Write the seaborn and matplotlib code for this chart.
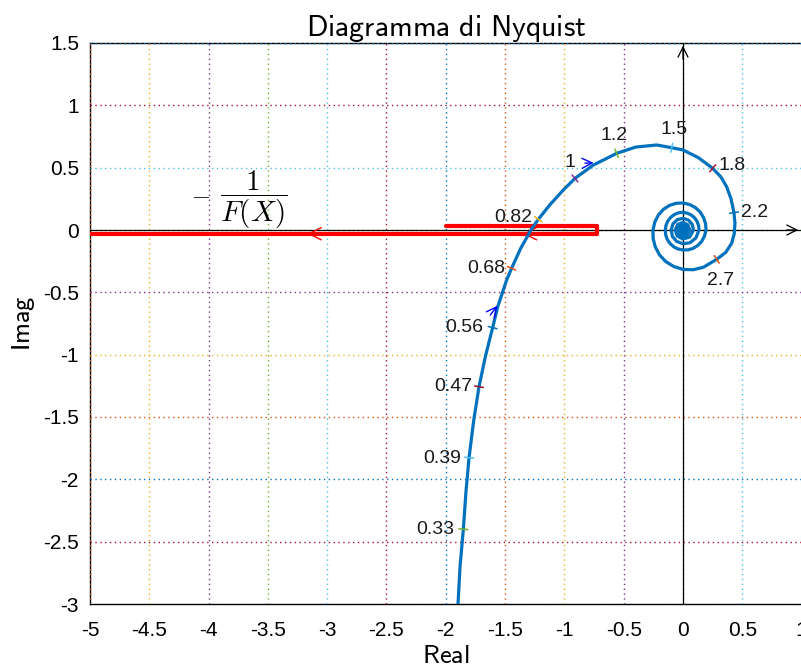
import numpy as np
import pandas as pd
import matplotlib
matplotlib.use("Agg")
import matplotlib.pyplot as plt
import seaborn as sns

# Nyquist locus of the open-loop function, low-frequency branch (Re, Im)
nyq_re = [-1.900, -1.880, -1.852, -1.830, -1.804, -1.765, -1.720, -1.665, -1.605,
          -1.562, -1.487, -1.445, -1.370, -1.282, -1.220, -1.120, -1.009, -0.911,
          -0.756, -0.559, -0.400, -0.222, -0.095, 0.000, 0.130, 0.250, 0.320,
          0.368, 0.405, 0.430, 0.438, 0.432, 0.410, 0.360, 0.284]
nyq_im = [-3.050, -2.700, -2.400, -2.100, -1.826, -1.530, -1.257, -1.010, -0.783,
          -0.615, -0.401, -0.307, -0.150, 0.000, 0.086, 0.205, 0.321, 0.414,
          0.521, 0.615, 0.665, 0.682, 0.660, 0.642, 0.580, 0.495, 0.425,
          0.347, 0.250, 0.139, 0.054, -0.030, -0.107, -0.180, -0.235]

# High-frequency spiral towards the origin, as phase (deg) and magnitude
tail_phase = [-60, -75, -90, -105, -120, -135, -150, -165, -180, -195, -210, -225,
              -240, -255, -270, -285, -300, -315, -330, -345, -360,
              -375, -390, -405, -420, -435, -450, -465, -480, -495, -510, -525, -540,
              -555, -570, -585, -600, -615, -630, -645, -660, -675, -690, -705, -720,
              -750, -780, -810, -840, -870, -900, -930, -960, -990, -1020, -1050, -1080,
              -1125, -1170, -1215, -1260, -1305, -1350, -1395, -1440,
              -1485, -1530, -1575, -1620, -1665, -1710, -1755, -1800,
              -1845, -1890, -1935, -1980, -2025, -2070, -2115, -2160,
              -2205, -2250, -2295, -2340, -2385, -2430, -2475, -2520]
tail_mag = [0.345, 0.330, 0.316, 0.303, 0.292, 0.281, 0.270, 0.261, 0.253, 0.246, 0.240, 0.234,
            0.228, 0.222, 0.217, 0.212, 0.208, 0.204, 0.200, 0.197, 0.194,
            0.188, 0.182, 0.176, 0.170, 0.165, 0.160, 0.158, 0.156, 0.154, 0.153, 0.151, 0.150,
            0.148, 0.147, 0.145, 0.144, 0.143, 0.142, 0.140, 0.139, 0.138, 0.137, 0.136, 0.135,
            0.126, 0.118, 0.110, 0.106, 0.103, 0.100, 0.098, 0.096, 0.094, 0.092, 0.090, 0.088,
            0.080, 0.072, 0.069, 0.066, 0.063, 0.061, 0.059, 0.056,
            0.051, 0.047, 0.044, 0.041, 0.038, 0.036, 0.034, 0.032,
            0.030, 0.027, 0.025, 0.023, 0.021, 0.019, 0.017, 0.015,
            0.013, 0.011, 0.009, 0.008, 0.006, 0.005, 0.004, 0.003]

# Frequency marks along the locus
omega_labels = ["0.33", "0.39", "0.47", "0.56", "0.68", "0.82",
                "1", "1.2", "1.5", "1.8", "2.2", "2.7"]
mark_re = [-1.852, -1.804, -1.720, -1.605, -1.445, -1.220,
           -0.911, -0.559, -0.095, 0.250, 0.430, 0.284]
mark_im = [-2.400, -1.826, -1.257, -0.783, -0.307, 0.086,
           0.414, 0.615, 0.660, 0.495, 0.139, -0.235]

# Describing-function locus -1/F(X)
df_re = [-2.00, -0.728, -0.728, -5.10]
df_im = [0.030, 0.030, -0.030, -0.030]

x_ticks = [-5, -4.5, -4, -3.5, -3, -2.5, -2, -1.5, -1, -0.5, 0, 0.5, 1]
y_ticks = [1.5, 1, 0.5, 0, -0.5, -1, -1.5, -2, -2.5, -3]

sns.set_theme(style="white")
plt.rcParams["font.family"] = ["Liberation Sans", "DejaVu Sans"]
plt.rcParams["mathtext.fontset"] = "cm"

cycle = ["#0072BD", "#D95319", "#EDB120", "#7E2F8E", "#77AC30", "#4DBEEE", "#A2142F"]
line_blue = "#0072BD"

fig = plt.figure(figsize=(8.01, 6.72), dpi=100)
ax = fig.add_axes([90 / 801, 68 / 672, 711.6 / 801, 561 / 672])
ax.set_xlim(-5, 1)
ax.set_ylim(-3, 1.5)

# coloured dotted grid
for k, xv in enumerate(x_ticks):
    ax.axvline(xv, color=cycle[(1 + k) % 7], ls=(0, (1, 2.5)), lw=1.0, zorder=1)
for k, yv in enumerate(y_ticks):
    ax.axhline(yv, color=cycle[(-k) % 7], ls=(0, (1, 2.5)), lw=1.0, zorder=1)

for side in ["left", "bottom", "top"]:
    ax.spines[side].set_color("black")
    ax.spines[side].set_linewidth(1.0)
    ax.spines[side].set_zorder(0.5)
ax.spines["right"].set_visible(False)

# coordinate axes with arrowheads
ax.plot([-5, 0.99], [0, 0], color="black", lw=0.9, zorder=2, clip_on=False)
ax.plot([0, 0], [-3, 1.5], color="black", lw=0.9, zorder=2, clip_on=False)
ax.annotate("", xy=(0.995, 0), xytext=(0.85, 0),
            arrowprops=dict(arrowstyle="->", color="black", lw=0.9, mutation_scale=18),
            annotation_clip=False, zorder=2)
ax.annotate("", xy=(0, 1.5), xytext=(0, 1.35),
            arrowprops=dict(arrowstyle="->", color="black", lw=0.9, mutation_scale=18),
            annotation_clip=False, zorder=2)

# describing-function locus
df = pd.DataFrame({"re": df_re, "im": df_im})
sns.lineplot(data=df, x="re", y="im", sort=False, estimator=None,
             color="#FF0000", lw=3.0, ax=ax, zorder=3)
for xa in [-3.19, -1.374]:
    ax.annotate("", xy=(xa, -0.030), xytext=(xa + 0.2, -0.030),
                arrowprops=dict(arrowstyle="->", color="#FF0000", lw=1.0,
                                mutation_scale=22), zorder=3)

# Nyquist locus: branch followed by the spiral
ph = np.deg2rad(tail_phase)
all_re = list(nyq_re) + list(np.array(tail_mag) * np.cos(ph)) + [0.0]
all_im = list(nyq_im) + list(np.array(tail_mag) * np.sin(ph)) + [0.0]
nyq = pd.DataFrame({"re": all_re, "im": all_im})
sns.lineplot(data=nyq, x="re", y="im", sort=False, estimator=None,
             color=line_blue, lw=2.3, ax=ax, zorder=4)

# direction arrows on the locus
for tail, head in [((-1.64, -0.70), (-1.55, -0.59)), ((-0.85, 0.535), (-0.73, 0.54))]:
    ax.annotate("", xy=head, xytext=tail,
                arrowprops=dict(arrowstyle="->", color="#0000FF", lw=1.0,
                                mutation_scale=18), zorder=5)

# frequency ticks and labels
fig.canvas.draw()
to_disp = ax.transData
to_data = ax.transData.inverted()
pts = np.column_stack([all_re, all_im])
disp_pts = to_disp.transform(pts)
offsets = [(-28, 0), (-27, -1), (-26, 0), (-28, 0), (-25, 0), (-25, 2),
           (-5, 16), (-3, 18), (2, 18), (19, 3), (21, 0), (4, -21)]
for i, (lab, mx, my) in enumerate(zip(omega_labels, mark_re, mark_im)):
    p = to_disp.transform((mx, my))
    j = int(np.argmin(np.hypot(*(disp_pts - p).T)))
    a = disp_pts[max(j - 1, 0)]
    b = disp_pts[min(j + 1, len(disp_pts) - 1)]
    t = (b - a) / np.hypot(*(b - a))
    n = np.array([-t[1], t[0]])
    seg = to_data.transform([p - 4.5 * n, p + 4.5 * n])
    ax.plot(seg[:, 0], seg[:, 1], color=cycle[(4 + i) % 7], lw=1.1, zorder=5)
    ax.annotate(lab, xy=(mx, my), xytext=offsets[i], textcoords="offset pixels",
                ha="center", va="center", fontsize=14, color="#1a1a1a", zorder=6)

# -1/F(X) label
ax.text(-3.62, 0.24, r"$\dfrac{1}{F(X)}$", fontsize=21, ha="center", va="center",
        color="black", zorder=6)
ax.text(-4.07, 0.273, "\u2014", fontsize=12, family="DejaVu Serif",
        ha="center", va="center_baseline", color="black", zorder=6)

ax.set_xticks(x_ticks)
ax.set_xticklabels([f"{v:g}" for v in x_ticks])
ax.set_yticks(y_ticks)
ax.set_yticklabels([f"{v:g}" for v in y_ticks])
ax.tick_params(direction="in", length=5, width=0.9, color="black",
               labelsize=15, labelcolor="black")
ax.tick_params(axis="x", pad=12)
ax.tick_params(axis="y", pad=8)

ax.set_title(r"$\mathsf{Diagramma\ di\ Nyquist}$", fontsize=21.5, pad=5, color="black")
ax.set_xlabel(r"$\mathsf{Real}$", fontsize=19, labelpad=3, color="black")
ax.set_ylabel(r"$\mathsf{Imag}$", fontsize=19, labelpad=4, color="black")

fig.savefig("out.png", dpi=100)
